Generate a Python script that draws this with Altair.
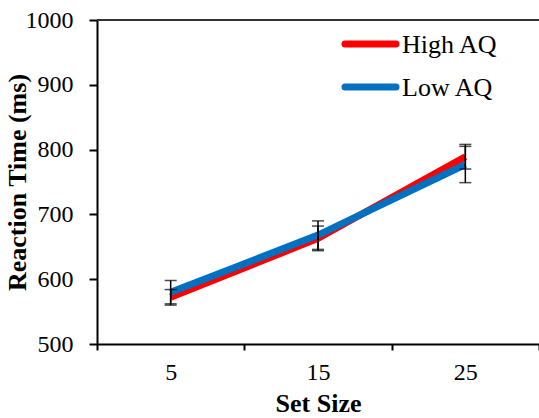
import altair as alt
import pandas as pd

set_sizes = ["5", "15", "25"]
series = ["High AQ", "Low AQ"]
high_mean = [572, 663, 789]
high_err = [12, 19, 19]
low_mean = [580, 668, 777]
low_err = [18, 22, 28]
colors = ["#FF0000", "#0070C0"]

rows = []
for s, means, errs in [("High AQ", high_mean, high_err), ("Low AQ", low_mean, low_err)]:
    for k, m, e in zip(set_sizes, means, errs):
        rows.append({"set": k, "series": s, "rt": m, "lo": m - e, "hi": m + e})
df = pd.DataFrame(rows)

FONT = "Liberation Serif"
FS = 24
TS = 26

xscale = alt.Scale(domain=set_sizes, paddingInner=0, paddingOuter=0)
xenc = alt.X("set:N", sort=set_sizes, scale=xscale,
             axis=alt.Axis(title="Set Size", labelAngle=0, tickBand="extent",
                           domainColor="black", domainWidth=2, tickColor="black",
                           tickWidth=2, tickSize=6, labelPadding=10,
                           labelFont=FONT, labelFontSize=FS, labelColor="black",
                           titleFont=FONT, titleFontSize=TS, titleFontWeight="bold",
                           titleColor="black", titleY=67, titleBaseline="alphabetic",
                           grid=False))
yscale = alt.Scale(domain=[500, 1000], nice=False, zero=False)
yenc = alt.Y("rt:Q", scale=yscale,
             axis=alt.Axis(title="Reaction Time (ms)", values=[500, 600, 700, 800, 900, 1000],
                           format="d",
                           domainColor="black", domainWidth=2, tickColor="black",
                           tickWidth=2, tickSize=8, labelPadding=16,
                           labelFont=FONT, labelFontSize=FS, labelColor="black",
                           titleFont=FONT, titleFontSize=TS, titleFontWeight="bold",
                           titleColor="black", titleX=-80, titleY=162, titleAngle=270,
                           titleAlign="center", titleBaseline="middle", grid=False))
cenc = alt.Color("series:N", scale=alt.Scale(domain=series, range=colors), legend=None)

yplain_lo = alt.Y("lo:Q", scale=yscale, axis=None)
yplain_hi = alt.Y("hi:Q", scale=yscale, axis=None)

lines = alt.Chart(df).mark_line(strokeWidth=7).encode(x=xenc, y=yenc, color=cenc)

top = alt.Chart(pd.DataFrame({"v": [1000]})).mark_rule(color="#333333", strokeWidth=2).encode(
    y=alt.Y("v:Q", scale=yscale, axis=None), x=alt.value(0), x2=alt.value(442))

bars = alt.Chart(df).mark_rule(color="black", strokeWidth=1.5).encode(
    x=xenc, y=yplain_lo, y2="hi:Q")
caps_lo = alt.Chart(df).mark_tick(color="black", size=12, thickness=1.5, orient="horizontal").encode(
    x=xenc, y=yplain_lo)
caps_hi = alt.Chart(df).mark_tick(color="black", size=12, thickness=1.5, orient="horizontal").encode(
    x=xenc, y=yplain_hi)

leg = pd.DataFrame({"series": series})
lyenc = alt.Y("series:N", scale=alt.Scale(type="point", domain=series, range=[24, 67], padding=0), axis=None)
leg_lines = alt.Chart(leg).mark_rule(strokeWidth=7, strokeCap="round").encode(
    y=lyenc, x=alt.value(248), x2=alt.value(299),
    color=alt.Color("series:N", scale=alt.Scale(domain=series, range=colors), legend=None))
leg_text = alt.Chart(leg).mark_text(align="left", baseline="middle", font=FONT, fontSize=26,
                                    color="black", dy=1).encode(
    y=lyenc, x=alt.value(305), text="series:N")

chart = alt.layer(lines, top, bars, caps_lo, caps_hi, leg_lines, leg_text).resolve_scale(
    y="independent").properties(
    width=442, height=324,
    autosize=alt.AutoSizeParams(type="none"),
    padding={"left": 97, "top": 20, "right": 0, "bottom": 74},
).configure_view(stroke=None).configure(background="white")

chart.save("out.html", embed_options={"renderer": "svg", "actions": False})
